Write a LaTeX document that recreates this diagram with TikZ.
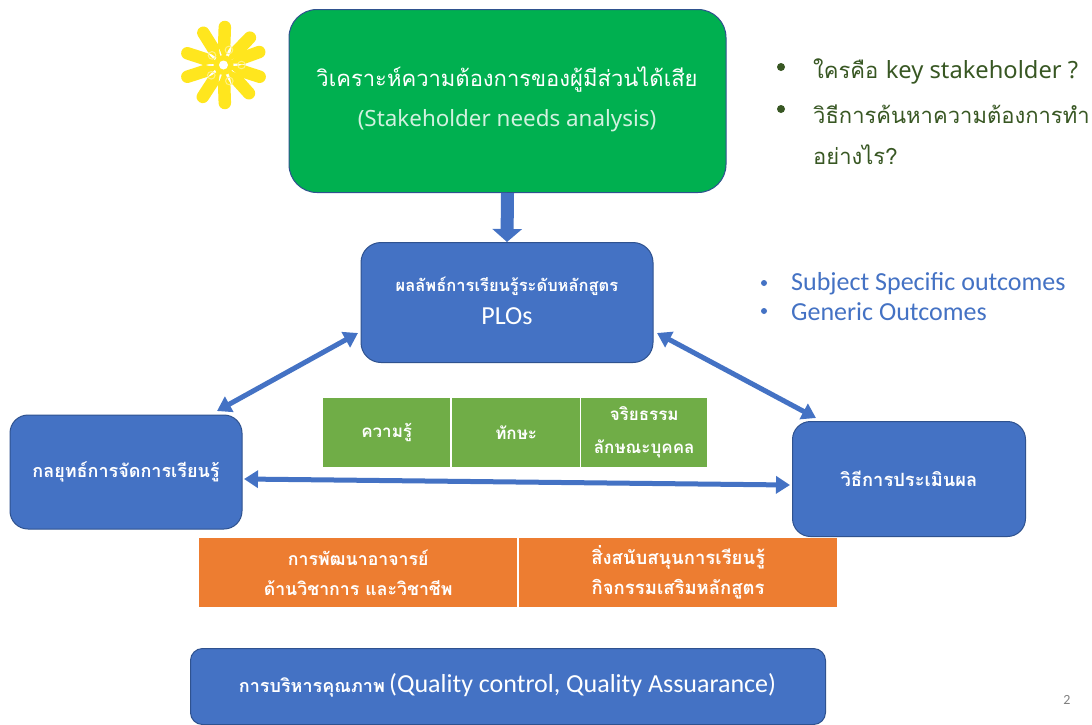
\documentclass[tikz,border=0pt]{standalone}
\usepackage{fontspec}
\setmainfont{Carlito}
\newfontfamily\thf[Script=Thai]{Loma}
\newfontfamily\lat{Noto Sans}
\usetikzlibrary{arrows.meta,calc}
\definecolor{bgreen}{HTML}{00B050}
\definecolor{bblue}{HTML}{4472C4}
\definecolor{edgeblue}{HTML}{2F528F}
\definecolor{cellgreen}{HTML}{70AD47}
\definecolor{cellorange}{HTML}{ED7D31}
\definecolor{dkgreen}{HTML}{385723}
\definecolor{sun}{HTML}{FFE61E}
\tikzset{
 x=1pt,y=-1pt,
 rbox/.style={draw=edgeblue,line width=1pt,fill=bblue,text=white,rounded corners=#1,inner sep=0pt,align=center,anchor=north west},
 rbox/.default=18pt,
 cell/.style={fill=#1,text=white,inner sep=0pt,align=center,anchor=north west},
 link/.style={draw=bblue,line width=5pt,{Triangle[length=14pt,width=17pt]}-{Triangle[length=14pt,width=17pt]}},
 blockarrow/.style={draw=bblue,line width=13pt,-{Triangle[length=13pt,width=29pt]}},
 petal/.style={line width=12.5pt,draw=sun,line cap=round},
 ring/.style={draw=white!45!sun,line width=1pt,fill=none},
 bullettext/.style={anchor=west,inner sep=0pt},
 dotmark/.style={circle,inner sep=0pt,minimum size=#1},
}
\begin{document}
\begin{tikzpicture}
\useasboundingbox (0,0) rectangle (1092,724);
\fill[white] (0,0) rectangle (1092,724);

% sun
\coordinate (sunc) at (223.5,65);
\foreach \a in {88,46,20,-18,-48,-88,-123,-162,162,122}{
  \fill[sun] ($(sunc)+(\a:5pt)$) -- ($(sunc)+(\a:20pt)+(\a+90:6.2pt)$) -- ($(sunc)+(\a:20pt)+(\a-90:6.2pt)$) -- cycle;
  \draw[petal] ($(sunc)+(\a:20pt)$) -- ($(sunc)+(\a:38pt)$);
}
\fill[sun] (sunc) circle (10pt);
\fill[white] (sunc) circle (4.5pt);
\foreach \a/\r in {140/15,70/16,0/18,220/16,-70/17}{
  \draw[ring] ($(sunc)+(\a:\r pt)$) circle (3.8pt);
}

% main boxes
\node[rbox=28pt,fill=bgreen,minimum width=437pt,minimum height=183pt] (top) at (288.5,9) {};
\node[text=white,font=\thf\fontsize{22}{26}\selectfont,inner sep=0pt] (toptitle) at (507,79) {วิเคราะห์ความต้องการของผู้มีส่วนได้เสีย};
\node[text=white!82!bgreen,font=\lat\fontsize{22.4}{26}\selectfont,inner sep=0pt] (topsub) at (507,121) {(Stakeholder needs analysis)};

\node[rbox=20pt,minimum width=292pt,minimum height=120pt] (plo) at (360.5,242) {};
\node[text=white,font=\thf\bfseries\fontsize{16.5}{20}\selectfont,inner sep=0pt] (plotitle) at (507,286) {ผลลัพธ์การเรียนรู้ระดับหลักสูตร};
\node[text=white,font=\fontsize{26}{30}\selectfont,inner sep=0pt] (plolabel) at (507,316) {PLOs};

\node[rbox=18pt,minimum width=232pt,minimum height=114pt,font=\thf\bfseries\fontsize{18}{22}\selectfont] (strat) at (9.5,414.5) {กลยุทธ์การจัดการเรียนรู้};
\node[rbox=18pt,minimum width=233pt,minimum height=115pt,font=\thf\bfseries\fontsize{18.3}{22}\selectfont] (assess) at (792,421) {\raisebox{1pt}{วิธีการประเมินผล}};

% green cells
\node[cell=cellgreen,minimum width=127pt,minimum height=69pt,font=\thf\bfseries\fontsize{17}{21}\selectfont] (know) at (323,398) {ความรู้};
\node[cell=cellgreen,minimum width=128pt,minimum height=69pt,font=\thf\bfseries\fontsize{17}{21}\selectfont] (skill) at (452,398) {ทักษะ};
\node[cell=cellgreen,minimum width=126pt,minimum height=69pt,font=\thf\bfseries\fontsize{17}{33}\selectfont] (ethic) at (581,398) {\raisebox{-1.5pt}{จริยธรรม}\\\raisebox{-1.5pt}{ลักษณะบุคคล}};

% orange cells
\node[cell=cellorange,minimum width=318pt,minimum height=69pt,font=\thf\bfseries\fontsize{17.7}{30}\selectfont] (dev) at (199,538) {การพัฒนาอาจารย์\\ด้านวิชาการ และวิชาชีพ};
\node[cell=cellorange,minimum width=318pt,minimum height=69pt,font=\thf\bfseries\fontsize{18.5}{30}\selectfont] (support) at (519,538) {สิ่งสนับสนุนการเรียนรู้\\กิจกรรมเสริมหลักสูตร};

% quality box
\node[rbox=12pt,minimum width=635pt,minimum height=76pt] (qual) at (190,648) {};
\node[text=white,inner sep=0pt] (qualtext) at (507.5,685) {{\thf\bfseries\fontsize{18}{22}\selectfont การบริหารคุณภาพ}\hspace{2pt} {\fontsize{26}{30}\selectfont (Quality control, Quality Assuarance)}};

% connectors
\coordinate (ploL) at (358,333);
\coordinate (stratT) at (217,411);
\coordinate (ploR) at (657,333);
\coordinate (assessT) at (816,418);
\coordinate (stratR) at (244,479);
\coordinate (assessL) at (790,485);
\draw[blockarrow] (top.south) -- (plo.north);
\draw[link] (ploL) -- (stratT);
\draw[link] (ploR) -- (assessT);
\draw[link] (stratR) -- (assessL);

% right-hand notes
\node[dotmark=8pt,fill=dkgreen] (b1) at (781,67) {};
\node[dotmark=8pt,fill=dkgreen] (b2) at (781,109) {};
\node[bullettext,text=dkgreen,font=\thf\fontsize{22}{26}\selectfont] (n1) at (813,71) {ใครคือ {\lat\fontsize{23.7}{28}\selectfont key stakeholder ?}};
\node[bullettext,text=dkgreen,font=\thf\fontsize{22}{26}\selectfont] (n2) at (813,114) {วิธีการค้นหาความต้องการทำ};
\node[bullettext,text=dkgreen,font=\thf\fontsize{22}{26}\selectfont] (n3) at (813,155) {อย่างไร?};

\node[dotmark=6pt,fill=bblue] (b3) at (764,283) {};
\node[dotmark=6pt,fill=bblue] (b4) at (764,311) {};
\node[bullettext,text=bblue,font=\fontsize{26}{30}\selectfont] (n4) at (791,284) {Subject Specific outcomes};
\node[bullettext,text=bblue,font=\fontsize{26}{30}\selectfont] (n5) at (791,312) {Generic Outcomes};

\node[text=black!50,font=\fontsize{14}{16}\selectfont,inner sep=0pt] (pg) at (1067,700) {2};
\end{tikzpicture}
\end{document}
